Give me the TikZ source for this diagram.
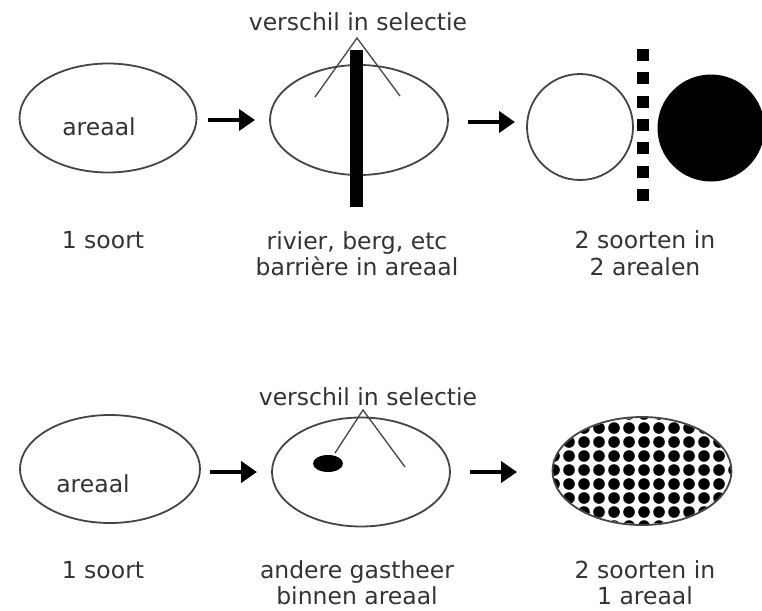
\documentclass[tikz,border=0pt]{standalone}
\usepackage{fontspec}
\setmainfont{DejaVu Sans}
\usetikzlibrary{arrows.meta,shapes.geometric}
\definecolor{ink}{HTML}{333333}
\definecolor{outl}{HTML}{444444}
\tikzset{
  lbl/.style={anchor=base, inner sep=0, text=ink, font=\fontsize{23.5}{27}\selectfont},
  oval/.style={ellipse, draw=outl, line width=1.8pt, inner sep=0},
  arr/.style={draw=black, line width=4.2pt, -{Triangle[length=16pt,width=21pt]}},
  selline/.style={draw=outl, line width=1.3pt},
  sq/.style={fill=black, inner sep=0, minimum size=12pt},
}
\begin{document}
\begin{tikzpicture}[x=1pt,y=-1pt]
\useasboundingbox (0,0) rectangle (762,610);
% ---------- top row ----------
\node[oval, minimum width=177pt, minimum height=109pt] (e1) at (108,118) {};
\node[lbl] (e1t) at (99,135) {areaal};
\coordinate (a1s) at (208,120); \coordinate (a1e) at (255,120);
\draw[arr] (a1s) -- (a1e);

\node[oval, minimum width=178pt, minimum height=110pt] (e2) at (359,120) {};
\node[fill=black, inner sep=0, minimum width=13pt, minimum height=157pt] (bar) at (356.5,128.5) {};
\coordinate (apx) at (357,38);
\coordinate (sl) at (315,97); \coordinate (sr) at (400,96);
\draw[selline] (sl) -- (apx) -- (sr);
\node[lbl] (sel1) at (358,31) {verschil in selectie};
\coordinate (a2s) at (468,122); \coordinate (a2e) at (515,122);
\draw[arr] (a2s) -- (a2e);

\node[circle, draw=outl, line width=1.8pt, inner sep=0, minimum size=106pt] (c1) at (580,127) {};
\foreach \k in {0,...,6} {
  \node[sq] (q\k) at (643,{55+23.3*\k}) {};
}
\node[circle, fill=black, inner sep=0, minimum size=107pt] (c2) at (711,128) {};

\node[lbl] (t1) at (103,248) {1 soort};
\node[lbl] (t2a) at (357,249) {rivier, berg, etc};
\node[lbl] (t2b) at (357,275) {barrière in areaal};
\node[lbl] (t3a) at (645,248) {2 soorten in};
\node[lbl] (t3b) at (645,275) {2 arealen};

% ---------- bottom row ----------
\node[oval, minimum width=180pt, minimum height=108pt] (f1) at (110,469) {};
\node[lbl] (f1t) at (93,492) {areaal};
\coordinate (b1s) at (210,472); \coordinate (b1e) at (257,472);
\draw[arr] (b1s) -- (b1e);

\node[oval, minimum width=178pt, minimum height=109pt] (f2) at (361,472) {};
\node[ellipse, fill=black, inner sep=0, minimum width=30pt, minimum height=17pt] (host) at (328,463.5) {};
\coordinate (bpx) at (363,410);
\coordinate (bl) at (335,453); \coordinate (br) at (405,467);
\draw[selline] (bl) -- (bpx) -- (br);
\node[lbl] (sel2) at (368,405) {verschil in selectie};
\coordinate (b2s) at (470,472); \coordinate (b2e) at (517,472);
\draw[arr] (b2s) -- (b2e);

\begin{scope}
  \clip (642,471) ellipse [x radius=89, y radius=53];
  \foreach \i in {-6,...,6} {
    \foreach \j in {-4,...,4} {
      \fill[black] ({644+15*\i},{470+14*\j}) circle [radius=5.8];
    }
  }
\end{scope}
\node[oval, minimum width=179pt, minimum height=108pt] (f3) at (642,471) {};

\node[lbl] (u1) at (103,578) {1 soort};
\node[lbl] (u2a) at (357,578) {andere gastheer};
\node[lbl] (u2b) at (357,604) {binnen areaal};
\node[lbl] (u3a) at (645,578) {2 soorten in};
\node[lbl] (u3b) at (645,604) {1 areaal};
\end{tikzpicture}
\end{document}
